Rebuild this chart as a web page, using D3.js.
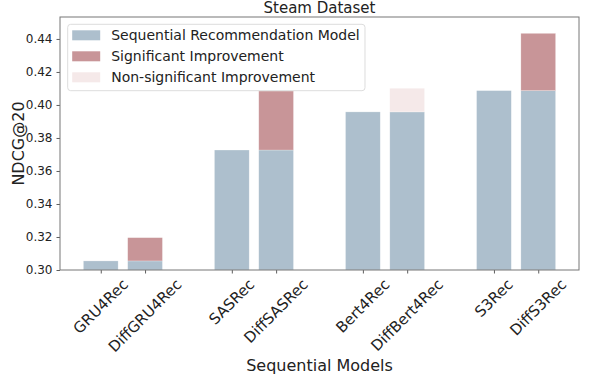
<!DOCTYPE html>
<html>
<head>
<meta charset="utf-8">
<script src="https://cdn.jsdelivr.net/npm/d3@7"></script>
<style>
  body { margin: 0; background: #fff; }
  text { font-family: "DejaVu Sans", sans-serif; fill: #222; }
</style>
</head>
<body>
<div id="vis"></div>
<script>
const FRAME_WIDTH = 598;
const FRAME_HEIGHT = 375;
const MARGINS = {top: 17, bottom: 105, left: 60, right: 19};
const VIS_WIDTH = FRAME_WIDTH - MARGINS.left - MARGINS.right;
const VIS_HEIGHT = FRAME_HEIGHT - MARGINS.top - MARGINS.bottom;

// data
const baseModels = ["GRU4Rec", "SASRec", "Bert4Rec", "S3Rec"];
const diffModels = ["DiffGRU4Rec", "DiffSASRec", "DiffBert4Rec", "DiffS3Rec"];
const baseScores = [0.3055, 0.3727, 0.3958, 0.4087];
const diffScores = [0.3196, 0.4085, 0.4101, 0.4434];
const significant = [true, true, false, true];
const yTicks = [0.30, 0.32, 0.34, 0.36, 0.38, 0.40, 0.42, 0.44];
const legendLabels = ["Sequential Recommendation Model", "Significant Improvement", "Non-significant Improvement"];

const COLOR_BASE = "#adbfcd";
const COLOR_SIG = "#c89598";
const COLOR_NONSIG = "#f5e9e9";

const svg = d3.select("#vis")
  .append("svg")
    .attr("width", FRAME_WIDTH)
    .attr("height", FRAME_HEIGHT);

const X_SCALE = d3.scaleLinear()
  .domain([-0.48, baseModels.length - 1 + 0.48])
  .range([0, VIS_WIDTH]);

const Y_SCALE = d3.scaleLinear()
  .domain([0.30, 0.4533])
  .range([VIS_HEIGHT, 0]);

const OFFSET = 0.169;
const BAR_W = X_SCALE(0.265) - X_SCALE(0);

const g = svg.append("g")
  .attr("transform", `translate(${MARGINS.left}, ${MARGINS.top})`);

// bars: one row per bar
const bars = [];
baseModels.forEach((m, i) => {
  bars.push({name: m, x: i - OFFSET, lo: 0.30, hi: baseScores[i], color: COLOR_BASE});
  bars.push({name: diffModels[i], x: i + OFFSET, lo: 0.30, hi: baseScores[i], color: COLOR_BASE});
  bars.push({name: diffModels[i] + "-gain", x: i + OFFSET, lo: baseScores[i], hi: diffScores[i],
             color: significant[i] ? COLOR_SIG : COLOR_NONSIG});
});

g.selectAll(".bar")
  .data(bars)
  .enter()
  .append("rect")
    .attr("class", "bar")
    .attr("x", d => X_SCALE(d.x) - BAR_W / 2)
    .attr("width", BAR_W)
    .attr("y", d => Y_SCALE(d.hi))
    .attr("height", d => Y_SCALE(d.lo) - Y_SCALE(d.hi))
    .attr("fill", d => d.color)
    .attr("stroke", "rgba(255,255,255,0.4)")
    .attr("stroke-width", 0.6);

// y axis
const yAxis = g.append("g")
  .call(d3.axisLeft(Y_SCALE).tickValues(yTicks).tickFormat(d3.format(".2f")).tickSize(3.5).tickPadding(4));
yAxis.selectAll("text").attr("font-size", 12).style("fill", "#222");

// x axis ticks
const tickData = [];
baseModels.forEach((m, i) => {
  tickData.push({name: m, x: i - OFFSET});
  tickData.push({name: diffModels[i], x: i + OFFSET});
});
const xAxis = g.append("g")
  .attr("transform", `translate(0, ${VIS_HEIGHT})`)
  .call(d3.axisBottom(X_SCALE).tickValues(tickData.map(d => d.x)).tickSize(3.5).tickFormat(""));

[yAxis, xAxis].forEach(ax => {
  ax.select(".domain").remove();
  ax.selectAll("line").attr("stroke", "#333").attr("stroke-width", 0.8);
});

// rotated x labels, centered under tick like matplotlib ha='center'
const xl = g.append("g");
tickData.forEach(d => {
  const t = xl.append("text")
    .attr("font-size", 15)
    .attr("text-anchor", "middle")
    .attr("dominant-baseline", "central")
    .text(d.name);
  const L = t.node().getComputedTextLength();
  const h = 15;
  const bh = (L + h) * Math.SQRT1_2;
  const cx = X_SCALE(d.x);
  const cy = VIS_HEIGHT + 3.5 + 3 + bh / 2;
  t.attr("transform", `translate(${cx}, ${cy}) rotate(-45)`);
});

// frame
g.append("rect")
  .attr("width", VIS_WIDTH)
  .attr("height", VIS_HEIGHT)
  .attr("fill", "none")
  .attr("stroke", "#777")
  .attr("stroke-width", 1);

// title and axis labels
svg.append("text")
  .attr("x", MARGINS.left + VIS_WIDTH / 2)
  .attr("y", 13)
  .attr("text-anchor", "middle")
  .attr("font-size", 15)
  .text("Steam Dataset");

svg.append("text")
  .attr("x", MARGINS.left + VIS_WIDTH / 2)
  .attr("y", 371)
  .attr("text-anchor", "middle")
  .attr("font-size", 16)
  .text("Sequential Models");

svg.append("text")
  .attr("transform", `translate(24, ${MARGINS.top + VIS_HEIGHT / 2}) rotate(-90)`)
  .attr("text-anchor", "middle")
  .attr("font-size", 16)
  .text("NDCG@20");

// legend
const legend = g.append("g").attr("transform", "translate(7.7, 7.3)");
legend.append("rect")
  .attr("width", 297.3)
  .attr("height", 66.4)
  .attr("rx", 3)
  .attr("fill", "rgba(255,255,255,0.8)")
  .attr("stroke", "#ddd");
const legendColors = [COLOR_BASE, COLOR_SIG, COLOR_NONSIG];
legendLabels.forEach((lab, i) => {
  legend.append("rect")
    .attr("x", 4.5)
    .attr("y", 6 + i * 21)
    .attr("width", 28)
    .attr("height", 10)
    .attr("fill", legendColors[i]);
  legend.append("text")
    .attr("x", 43.5)
    .attr("y", 11 + i * 21)
    .attr("dominant-baseline", "central")
    .attr("font-size", 14)
    .text(lab);
});
</script>
</body>
</html>
